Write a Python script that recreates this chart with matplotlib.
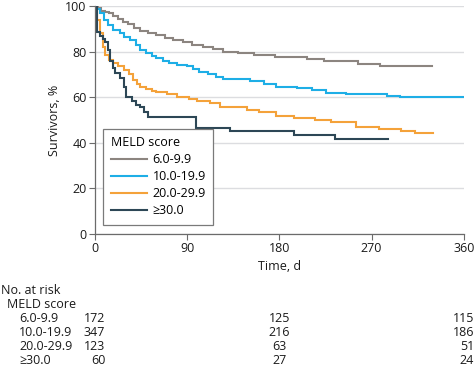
import matplotlib
matplotlib.use("Agg")
import matplotlib.pyplot as plt
import matplotlib.transforms as mtransforms

plt.rcParams['font.family'] = ['Open Sans', 'DejaVu Sans']

groups = ["6.0-9.9", "10.0-19.9", "20.0-29.9", "≥30.0"]
colors = ["#8c8580", "#1eaee6", "#f4a23a", "#2d4756"]

t_g1 = [0, 3, 6, 10, 14, 18, 22, 27, 32, 38, 44, 52, 60, 68, 76, 86, 95, 105, 115, 125, 140, 155, 176, 207, 224, 257, 278, 329]
s_g1 = [100, 99, 98, 97.5, 96.8, 95.5, 94.5, 93, 92, 90.5, 89, 88, 87.3, 86, 85, 84, 83, 82, 81, 80, 79.5, 78.5, 77.5, 76.6, 75.7, 74.6, 73.8, 73.8]

t_g2 = [0, 2, 5, 9, 13, 18, 24, 28, 34, 40, 44, 50, 56, 60, 66, 72, 80, 90, 96, 102, 110, 118, 125, 140, 151, 165, 177, 197, 212, 226, 245, 268, 285, 298, 320, 345, 362]
s_g2 = [100, 98.5, 96.8, 94, 91.5, 89.5, 88, 86.5, 85, 83, 80.7, 79.5, 78, 77, 76, 75, 74.1, 73.5, 72.5, 71.2, 70, 68.8, 68.2, 67.8, 67.2, 65.8, 64.6, 63.9, 63, 62, 61.6, 61.2, 60.6, 60.2, 60, 59.9, 59.7]

t_g3 = [0, 2, 5, 8, 10, 14, 18, 22, 28, 33, 37, 41, 44, 50, 56, 60, 70, 80, 92, 100, 112, 122, 148, 160, 177, 194, 215, 230, 255, 277, 299, 312, 330]
s_g3 = [100, 94, 88, 82, 78.5, 76.5, 74.9, 73.5, 71.9, 70, 67.5, 66, 64.6, 63.5, 62.8, 62.4, 61.5, 60.2, 59.1, 58.3, 57.3, 55.6, 54.4, 53.4, 51.8, 50.7, 50, 49.3, 46.8, 45.9, 45.2, 44.3, 44.3]

t_g4 = [0, 2, 5, 8, 10, 13, 15, 18, 20, 24, 28, 30, 36, 40, 44, 48, 52, 93, 99, 132, 194, 234, 286]
s_g4 = [100, 88.7, 87, 85.5, 84.3, 80.5, 76, 73, 70.5, 68.3, 64.6, 60, 58.3, 56.7, 55.8, 53.3, 51.5, 51.5, 46.6, 45.2, 43.4, 41.7, 41.7]

risk_times = [0, 180, 360]
risk_g1 = [172, 125, 115]
risk_g2 = [347, 216, 186]
risk_g3 = [123, 63, 51]
risk_g4 = [60, 27, 24]

xticks = [0, 90, 180, 270, 360]
yticks = [0, 20, 40, 60, 80, 100]

fs = 9
fig = plt.figure(figsize=(4.74, 3.70), dpi=100)
ax = fig.add_axes([95/474, 1-234/370, (463.7-95)/474, 228/370])

series = [(t_g1, s_g1), (t_g2, s_g2), (t_g3, s_g3), (t_g4, s_g4)]
for (t, s), c, lab in zip(series, colors, groups):
    ax.step(t, s, where='post', color=c, lw=1.5, label=lab, solid_joinstyle='miter')

ax.set_xlim(0, 360)
ax.set_ylim(0, 100)
ax.set_xticks(xticks)
ax.set_yticks(yticks)
ax.grid(axis='y', color='#dcdde0', lw=1.0)
ax.set_axisbelow(True)
for sp in ['top', 'right']:
    ax.spines[sp].set_visible(False)
for sp in ['left', 'bottom']:
    ax.spines[sp].set_color('#6b6b6b')
    ax.spines[sp].set_linewidth(0.9)
ax.tick_params(axis='both', colors='#6b6b6b', labelcolor='#1a1a1a', labelsize=fs, length=4, width=0.8, pad=2)
ax.set_xlabel("Time, d", fontsize=fs, color='#1a1a1a', labelpad=3)
ax.set_ylabel("Survivors, %", fontsize=fs, color='#1a1a1a', labelpad=3)

leg = ax.legend(title="MELD score", loc='lower left', bbox_to_anchor=(0.022, 0.04),
                borderaxespad=0,
                fontsize=fs, title_fontsize=fs, frameon=True, fancybox=False,
                handlelength=2.9, handletextpad=0.45, borderpad=0.6, labelspacing=0.32,
                alignment='left')
leg.get_frame().set_edgecolor('#7a7a7a')
leg.get_frame().set_linewidth(0.9)
leg.get_frame().set_alpha(1)

# risk table
trans = mtransforms.blended_transform_factory(ax.transData, fig.transFigure)
fig.text(1/474, 1-291/370, "No. at risk", fontsize=fs, va='center', ha='left', color='#1a1a1a')
fig.text(7/474, 1-305/370, "MELD score", fontsize=fs, va='center', ha='left', color='#1a1a1a')
rows = [risk_g1, risk_g2, risk_g3, risk_g4]
row_y = [319, 333, 347, 361]
for lab, vals, yy in zip(groups, rows, row_y):
    fig.text(19/474, 1-yy/370, lab, fontsize=fs, va='center', ha='left', color='#1a1a1a')
    for tt, v in zip(risk_times, vals):
        if tt == 0:
            ax.text(10, 1-yy/370, str(v), transform=trans, fontsize=fs, va='center', ha='right', color='#1a1a1a')
        elif tt == 360:
            ax.text(370, 1-yy/370, str(v), transform=trans, fontsize=fs, va='center', ha='right', color='#1a1a1a')
        else:
            ax.text(tt, 1-yy/370, str(v), transform=trans, fontsize=fs, va='center', ha='center', color='#1a1a1a')

fig.savefig("out.png", dpi=100)
